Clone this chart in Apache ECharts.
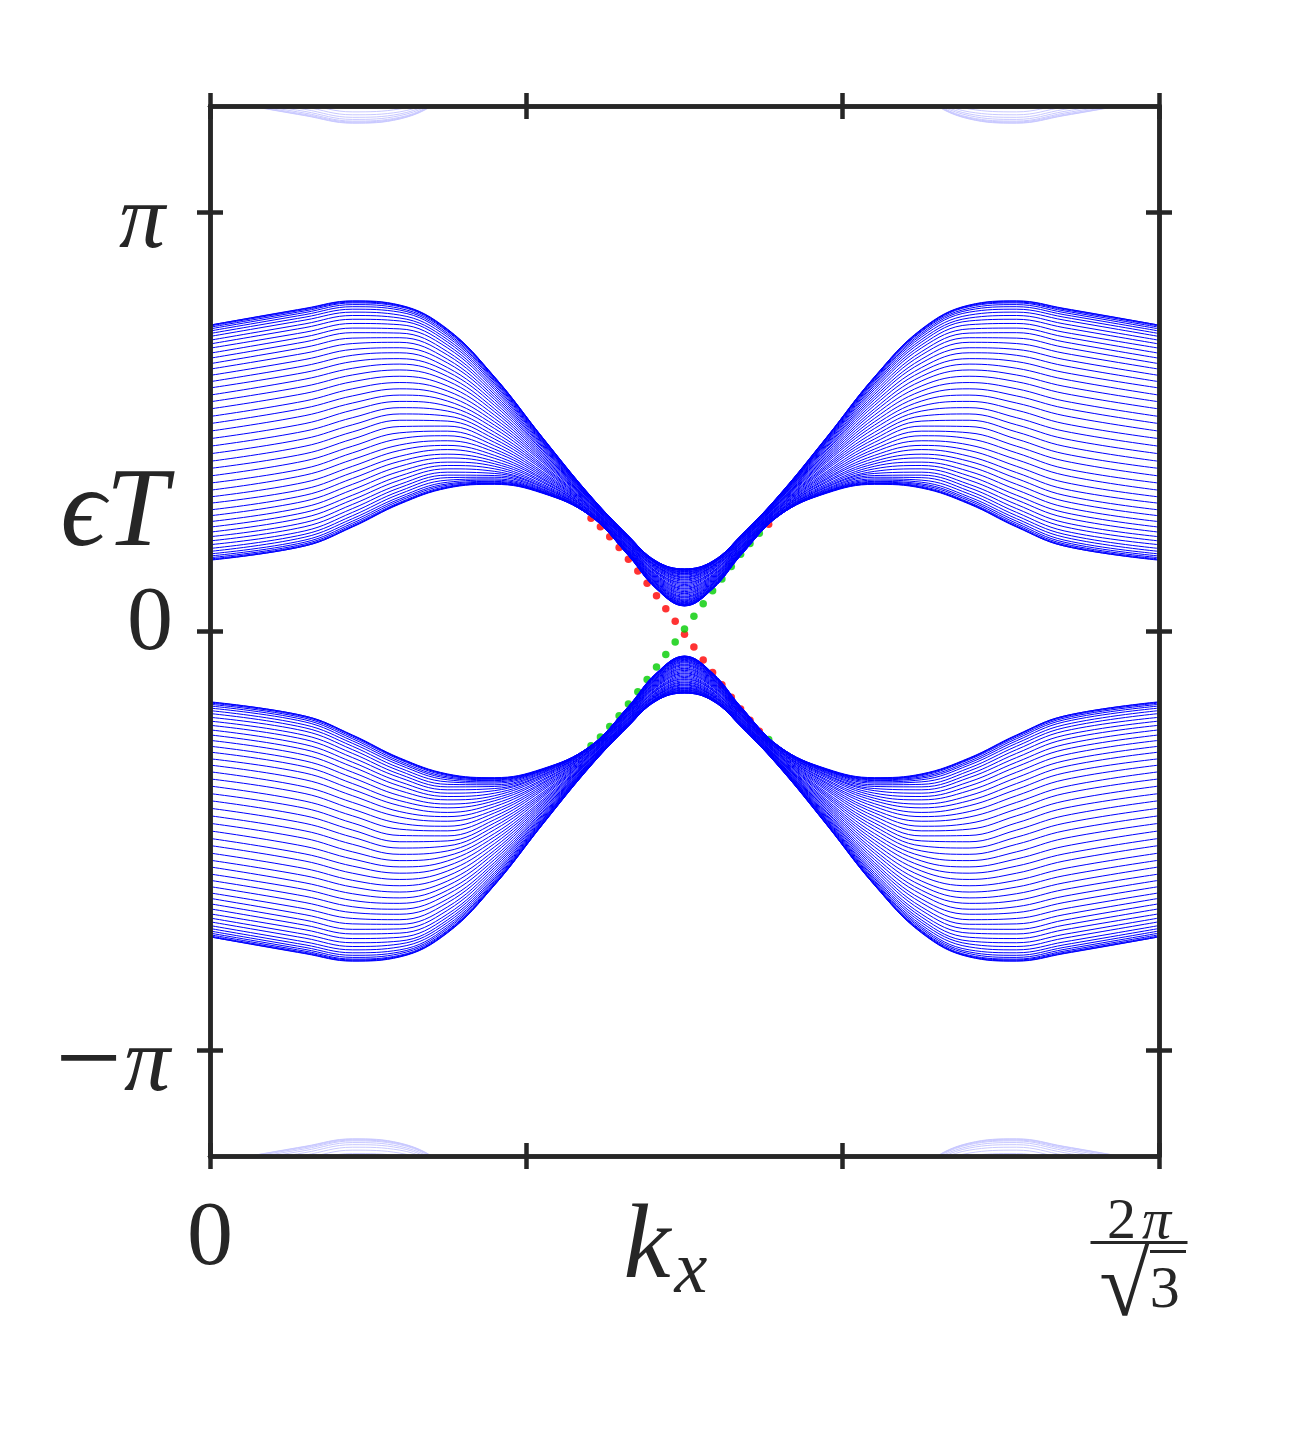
<!DOCTYPE html>
<html>
<head>
<meta charset="utf-8">
<script src="https://cdn.jsdelivr.net/npm/echarts@6/dist/echarts.min.js"></script>
<style>html,body{margin:0;padding:0;background:#fff}#chart{width:1291px;height:1431px}</style>
</head>
<body>
<div id="chart"></div>
<script>
// k_x in units of 2π/√3
const kx = [0, 0.1, 0.15, 0.2, 0.25, 0.3, 0.35, 0.4, 0.44, 0.47, 0.5, 0.53, 0.56, 0.6, 0.65, 0.7, 0.75, 0.8, 0.85, 0.9, 1];

// quasienergy εT in units of π, one row per bulk line (upper band)
const upperBand = [
[0.730,0.770,0.788,0.778,0.721,0.606,0.463,0.325,0.229,0.167,0.148,0.167,0.229,0.325,0.463,0.606,0.721,0.778,0.788,0.770,0.730],
[0.730,0.769,0.787,0.777,0.720,0.606,0.463,0.325,0.229,0.167,0.148,0.167,0.229,0.325,0.463,0.606,0.720,0.777,0.787,0.769,0.730],
[0.728,0.767,0.785,0.776,0.719,0.605,0.462,0.324,0.229,0.167,0.148,0.167,0.229,0.324,0.462,0.605,0.719,0.776,0.785,0.767,0.728],
[0.725,0.764,0.783,0.774,0.717,0.604,0.462,0.324,0.229,0.166,0.147,0.166,0.229,0.324,0.462,0.604,0.717,0.774,0.783,0.764,0.725],
[0.721,0.760,0.779,0.770,0.715,0.602,0.461,0.324,0.228,0.166,0.147,0.166,0.228,0.324,0.461,0.602,0.715,0.770,0.779,0.760,0.721],
[0.716,0.755,0.774,0.766,0.711,0.600,0.460,0.323,0.228,0.165,0.146,0.165,0.228,0.323,0.460,0.600,0.711,0.766,0.774,0.755,0.716],
[0.710,0.749,0.768,0.761,0.707,0.597,0.458,0.323,0.227,0.164,0.145,0.164,0.227,0.323,0.458,0.597,0.707,0.761,0.768,0.749,0.710],
[0.703,0.742,0.761,0.754,0.702,0.594,0.456,0.322,0.226,0.164,0.144,0.164,0.226,0.322,0.456,0.594,0.702,0.754,0.761,0.742,0.703],
[0.694,0.733,0.753,0.747,0.696,0.590,0.454,0.321,0.226,0.162,0.142,0.162,0.226,0.321,0.454,0.590,0.696,0.747,0.753,0.733,0.694],
[0.685,0.724,0.744,0.740,0.690,0.586,0.452,0.321,0.226,0.162,0.141,0.162,0.226,0.321,0.452,0.586,0.690,0.740,0.744,0.724,0.685],
[0.675,0.713,0.734,0.731,0.683,0.581,0.450,0.320,0.225,0.161,0.139,0.161,0.225,0.320,0.450,0.581,0.683,0.731,0.734,0.713,0.675],
[0.663,0.702,0.723,0.721,0.676,0.576,0.447,0.319,0.224,0.160,0.137,0.160,0.224,0.319,0.447,0.576,0.676,0.721,0.723,0.702,0.663],
[0.651,0.690,0.712,0.711,0.667,0.570,0.444,0.318,0.223,0.158,0.136,0.158,0.223,0.318,0.444,0.570,0.667,0.711,0.712,0.690,0.651],
[0.638,0.677,0.699,0.700,0.659,0.564,0.441,0.317,0.222,0.156,0.134,0.156,0.222,0.317,0.441,0.564,0.659,0.700,0.699,0.677,0.638],
[0.625,0.663,0.686,0.689,0.649,0.558,0.438,0.315,0.220,0.155,0.131,0.155,0.220,0.315,0.438,0.558,0.649,0.689,0.686,0.663,0.625],
[0.610,0.648,0.672,0.676,0.640,0.552,0.434,0.315,0.220,0.154,0.129,0.154,0.220,0.315,0.434,0.552,0.640,0.676,0.672,0.648,0.610],
[0.595,0.633,0.658,0.664,0.629,0.545,0.431,0.313,0.218,0.152,0.127,0.152,0.218,0.313,0.431,0.545,0.629,0.664,0.658,0.633,0.595],
[0.580,0.617,0.643,0.650,0.619,0.538,0.427,0.312,0.217,0.150,0.124,0.150,0.217,0.312,0.427,0.538,0.619,0.650,0.643,0.617,0.580],
[0.563,0.601,0.627,0.637,0.608,0.530,0.423,0.310,0.215,0.148,0.122,0.148,0.215,0.310,0.423,0.530,0.608,0.637,0.627,0.601,0.563],
[0.547,0.584,0.611,0.623,0.597,0.523,0.419,0.309,0.214,0.146,0.119,0.146,0.214,0.309,0.419,0.523,0.597,0.623,0.611,0.584,0.547],
[0.530,0.567,0.595,0.608,0.585,0.515,0.415,0.307,0.212,0.143,0.116,0.143,0.212,0.307,0.415,0.515,0.585,0.608,0.595,0.567,0.530],
[0.512,0.549,0.578,0.593,0.573,0.507,0.411,0.306,0.212,0.142,0.114,0.142,0.212,0.306,0.411,0.507,0.573,0.593,0.578,0.549,0.512],
[0.495,0.532,0.561,0.578,0.561,0.499,0.407,0.305,0.210,0.140,0.111,0.140,0.210,0.305,0.407,0.499,0.561,0.578,0.561,0.532,0.495],
[0.477,0.514,0.544,0.563,0.549,0.491,0.403,0.303,0.208,0.138,0.108,0.138,0.208,0.303,0.403,0.491,0.549,0.563,0.544,0.514,0.477],
[0.459,0.495,0.527,0.548,0.537,0.483,0.398,0.301,0.207,0.135,0.105,0.135,0.207,0.301,0.398,0.483,0.537,0.548,0.527,0.495,0.459],
[0.441,0.477,0.509,0.533,0.525,0.474,0.394,0.299,0.205,0.133,0.102,0.133,0.205,0.299,0.394,0.474,0.525,0.533,0.509,0.477,0.441],
[0.423,0.459,0.492,0.518,0.513,0.466,0.390,0.298,0.203,0.131,0.100,0.131,0.203,0.298,0.390,0.466,0.513,0.518,0.492,0.459,0.423],
[0.405,0.441,0.475,0.503,0.501,0.458,0.386,0.296,0.202,0.129,0.097,0.129,0.202,0.296,0.386,0.458,0.501,0.503,0.475,0.441,0.405],
[0.388,0.423,0.458,0.488,0.489,0.450,0.381,0.295,0.201,0.127,0.094,0.127,0.201,0.295,0.381,0.450,0.489,0.488,0.458,0.423,0.388],
[0.370,0.406,0.441,0.473,0.477,0.442,0.377,0.293,0.199,0.125,0.091,0.125,0.199,0.293,0.377,0.442,0.477,0.473,0.441,0.406,0.370],
[0.353,0.388,0.425,0.459,0.466,0.434,0.373,0.292,0.198,0.123,0.089,0.123,0.198,0.292,0.373,0.434,0.466,0.459,0.425,0.388,0.353],
[0.336,0.372,0.409,0.444,0.454,0.427,0.369,0.290,0.196,0.121,0.086,0.121,0.196,0.290,0.369,0.427,0.454,0.444,0.409,0.372,0.336],
[0.320,0.355,0.393,0.431,0.443,0.419,0.365,0.288,0.195,0.119,0.083,0.119,0.195,0.288,0.365,0.419,0.443,0.431,0.393,0.355,0.320],
[0.305,0.339,0.378,0.417,0.433,0.412,0.362,0.287,0.193,0.117,0.081,0.117,0.193,0.287,0.362,0.412,0.433,0.417,0.378,0.339,0.305],
[0.289,0.324,0.364,0.405,0.422,0.405,0.358,0.285,0.192,0.115,0.079,0.115,0.192,0.285,0.358,0.405,0.422,0.405,0.364,0.324,0.289],
[0.275,0.310,0.350,0.393,0.413,0.399,0.355,0.285,0.191,0.114,0.076,0.114,0.191,0.285,0.355,0.399,0.413,0.393,0.350,0.310,0.275],
[0.261,0.296,0.337,0.381,0.403,0.393,0.351,0.284,0.190,0.112,0.074,0.112,0.190,0.284,0.351,0.393,0.403,0.381,0.337,0.296,0.261],
[0.248,0.283,0.324,0.370,0.395,0.387,0.348,0.282,0.189,0.111,0.072,0.111,0.189,0.282,0.348,0.387,0.395,0.370,0.324,0.283,0.248],
[0.236,0.271,0.313,0.360,0.387,0.381,0.345,0.281,0.188,0.109,0.070,0.109,0.188,0.281,0.345,0.381,0.387,0.360,0.313,0.271,0.236],
[0.225,0.259,0.302,0.350,0.379,0.376,0.343,0.280,0.187,0.108,0.068,0.108,0.187,0.280,0.343,0.376,0.379,0.350,0.302,0.259,0.225],
[0.215,0.249,0.292,0.342,0.372,0.371,0.340,0.279,0.186,0.106,0.067,0.106,0.186,0.279,0.340,0.371,0.372,0.342,0.292,0.249,0.215],
[0.206,0.239,0.283,0.334,0.366,0.367,0.338,0.278,0.185,0.105,0.065,0.105,0.185,0.278,0.338,0.367,0.366,0.334,0.283,0.239,0.206],
[0.197,0.231,0.275,0.327,0.360,0.363,0.336,0.278,0.185,0.105,0.064,0.105,0.185,0.278,0.336,0.363,0.360,0.327,0.275,0.231,0.197],
[0.190,0.224,0.268,0.320,0.355,0.360,0.334,0.278,0.184,0.104,0.063,0.104,0.184,0.278,0.334,0.360,0.355,0.320,0.268,0.224,0.190],
[0.184,0.217,0.262,0.315,0.351,0.357,0.333,0.277,0.184,0.103,0.062,0.103,0.184,0.277,0.333,0.357,0.351,0.315,0.262,0.217,0.184],
[0.179,0.212,0.257,0.311,0.348,0.355,0.332,0.277,0.183,0.103,0.061,0.103,0.183,0.277,0.332,0.355,0.348,0.311,0.257,0.212,0.179],
[0.175,0.208,0.253,0.307,0.345,0.353,0.331,0.276,0.183,0.102,0.061,0.102,0.183,0.276,0.331,0.353,0.345,0.307,0.253,0.208,0.175],
[0.172,0.205,0.250,0.305,0.343,0.352,0.330,0.276,0.183,0.102,0.060,0.102,0.183,0.276,0.330,0.352,0.343,0.305,0.250,0.205,0.172],
[0.170,0.203,0.249,0.304,0.342,0.351,0.330,0.276,0.183,0.102,0.060,0.102,0.183,0.276,0.330,0.351,0.342,0.304,0.249,0.203,0.170],
[0.169,0.203,0.248,0.303,0.341,0.350,0.329,0.276,0.182,0.101,0.060,0.101,0.182,0.276,0.329,0.350,0.341,0.303,0.248,0.203,0.169]
];

// quasienergy εT in units of π (lower band)
const lowerBand = [
[-0.730,-0.770,-0.788,-0.778,-0.721,-0.606,-0.463,-0.325,-0.229,-0.167,-0.148,-0.167,-0.229,-0.325,-0.463,-0.606,-0.721,-0.778,-0.788,-0.770,-0.730],
[-0.730,-0.769,-0.787,-0.777,-0.720,-0.606,-0.463,-0.325,-0.229,-0.167,-0.148,-0.167,-0.229,-0.325,-0.463,-0.606,-0.720,-0.777,-0.787,-0.769,-0.730],
[-0.728,-0.767,-0.785,-0.776,-0.719,-0.605,-0.462,-0.324,-0.229,-0.167,-0.148,-0.167,-0.229,-0.324,-0.462,-0.605,-0.719,-0.776,-0.785,-0.767,-0.728],
[-0.725,-0.764,-0.783,-0.774,-0.717,-0.604,-0.462,-0.324,-0.229,-0.166,-0.147,-0.166,-0.229,-0.324,-0.462,-0.604,-0.717,-0.774,-0.783,-0.764,-0.725],
[-0.721,-0.760,-0.779,-0.770,-0.715,-0.602,-0.461,-0.324,-0.228,-0.166,-0.147,-0.166,-0.228,-0.324,-0.461,-0.602,-0.715,-0.770,-0.779,-0.760,-0.721],
[-0.716,-0.755,-0.774,-0.766,-0.711,-0.600,-0.460,-0.323,-0.228,-0.165,-0.146,-0.165,-0.228,-0.323,-0.460,-0.600,-0.711,-0.766,-0.774,-0.755,-0.716],
[-0.710,-0.749,-0.768,-0.761,-0.707,-0.597,-0.458,-0.323,-0.227,-0.164,-0.145,-0.164,-0.227,-0.323,-0.458,-0.597,-0.707,-0.761,-0.768,-0.749,-0.710],
[-0.703,-0.742,-0.761,-0.754,-0.702,-0.594,-0.456,-0.322,-0.226,-0.164,-0.144,-0.164,-0.226,-0.322,-0.456,-0.594,-0.702,-0.754,-0.761,-0.742,-0.703],
[-0.694,-0.733,-0.753,-0.747,-0.696,-0.590,-0.454,-0.321,-0.226,-0.162,-0.142,-0.162,-0.226,-0.321,-0.454,-0.590,-0.696,-0.747,-0.753,-0.733,-0.694],
[-0.685,-0.724,-0.744,-0.740,-0.690,-0.586,-0.452,-0.321,-0.226,-0.162,-0.141,-0.162,-0.226,-0.321,-0.452,-0.586,-0.690,-0.740,-0.744,-0.724,-0.685],
[-0.675,-0.713,-0.734,-0.731,-0.683,-0.581,-0.450,-0.320,-0.225,-0.161,-0.139,-0.161,-0.225,-0.320,-0.450,-0.581,-0.683,-0.731,-0.734,-0.713,-0.675],
[-0.663,-0.702,-0.723,-0.721,-0.676,-0.576,-0.447,-0.319,-0.224,-0.160,-0.137,-0.160,-0.224,-0.319,-0.447,-0.576,-0.676,-0.721,-0.723,-0.702,-0.663],
[-0.651,-0.690,-0.712,-0.711,-0.667,-0.570,-0.444,-0.318,-0.223,-0.158,-0.136,-0.158,-0.223,-0.318,-0.444,-0.570,-0.667,-0.711,-0.712,-0.690,-0.651],
[-0.638,-0.677,-0.699,-0.700,-0.659,-0.564,-0.441,-0.317,-0.222,-0.156,-0.134,-0.156,-0.222,-0.317,-0.441,-0.564,-0.659,-0.700,-0.699,-0.677,-0.638],
[-0.625,-0.663,-0.686,-0.689,-0.649,-0.558,-0.438,-0.315,-0.220,-0.155,-0.131,-0.155,-0.220,-0.315,-0.438,-0.558,-0.649,-0.689,-0.686,-0.663,-0.625],
[-0.610,-0.648,-0.672,-0.676,-0.640,-0.552,-0.434,-0.315,-0.220,-0.154,-0.129,-0.154,-0.220,-0.315,-0.434,-0.552,-0.640,-0.676,-0.672,-0.648,-0.610],
[-0.595,-0.633,-0.658,-0.664,-0.629,-0.545,-0.431,-0.313,-0.218,-0.152,-0.127,-0.152,-0.218,-0.313,-0.431,-0.545,-0.629,-0.664,-0.658,-0.633,-0.595],
[-0.580,-0.617,-0.643,-0.650,-0.619,-0.538,-0.427,-0.312,-0.217,-0.150,-0.124,-0.150,-0.217,-0.312,-0.427,-0.538,-0.619,-0.650,-0.643,-0.617,-0.580],
[-0.563,-0.601,-0.627,-0.637,-0.608,-0.530,-0.423,-0.310,-0.215,-0.148,-0.122,-0.148,-0.215,-0.310,-0.423,-0.530,-0.608,-0.637,-0.627,-0.601,-0.563],
[-0.547,-0.584,-0.611,-0.623,-0.597,-0.523,-0.419,-0.309,-0.214,-0.146,-0.119,-0.146,-0.214,-0.309,-0.419,-0.523,-0.597,-0.623,-0.611,-0.584,-0.547],
[-0.530,-0.567,-0.595,-0.608,-0.585,-0.515,-0.415,-0.307,-0.212,-0.143,-0.116,-0.143,-0.212,-0.307,-0.415,-0.515,-0.585,-0.608,-0.595,-0.567,-0.530],
[-0.512,-0.549,-0.578,-0.593,-0.573,-0.507,-0.411,-0.306,-0.212,-0.142,-0.114,-0.142,-0.212,-0.306,-0.411,-0.507,-0.573,-0.593,-0.578,-0.549,-0.512],
[-0.495,-0.532,-0.561,-0.578,-0.561,-0.499,-0.407,-0.305,-0.210,-0.140,-0.111,-0.140,-0.210,-0.305,-0.407,-0.499,-0.561,-0.578,-0.561,-0.532,-0.495],
[-0.477,-0.514,-0.544,-0.563,-0.549,-0.491,-0.403,-0.303,-0.208,-0.138,-0.108,-0.138,-0.208,-0.303,-0.403,-0.491,-0.549,-0.563,-0.544,-0.514,-0.477],
[-0.459,-0.495,-0.527,-0.548,-0.537,-0.483,-0.398,-0.301,-0.207,-0.135,-0.105,-0.135,-0.207,-0.301,-0.398,-0.483,-0.537,-0.548,-0.527,-0.495,-0.459],
[-0.441,-0.477,-0.509,-0.533,-0.525,-0.474,-0.394,-0.299,-0.205,-0.133,-0.102,-0.133,-0.205,-0.299,-0.394,-0.474,-0.525,-0.533,-0.509,-0.477,-0.441],
[-0.423,-0.459,-0.492,-0.518,-0.513,-0.466,-0.390,-0.298,-0.203,-0.131,-0.100,-0.131,-0.203,-0.298,-0.390,-0.466,-0.513,-0.518,-0.492,-0.459,-0.423],
[-0.405,-0.441,-0.475,-0.503,-0.501,-0.458,-0.386,-0.296,-0.202,-0.129,-0.097,-0.129,-0.202,-0.296,-0.386,-0.458,-0.501,-0.503,-0.475,-0.441,-0.405],
[-0.388,-0.423,-0.458,-0.488,-0.489,-0.450,-0.381,-0.295,-0.201,-0.127,-0.094,-0.127,-0.201,-0.295,-0.381,-0.450,-0.489,-0.488,-0.458,-0.423,-0.388],
[-0.370,-0.406,-0.441,-0.473,-0.477,-0.442,-0.377,-0.293,-0.199,-0.125,-0.091,-0.125,-0.199,-0.293,-0.377,-0.442,-0.477,-0.473,-0.441,-0.406,-0.370],
[-0.353,-0.388,-0.425,-0.459,-0.466,-0.434,-0.373,-0.292,-0.198,-0.123,-0.089,-0.123,-0.198,-0.292,-0.373,-0.434,-0.466,-0.459,-0.425,-0.388,-0.353],
[-0.336,-0.372,-0.409,-0.444,-0.454,-0.427,-0.369,-0.290,-0.196,-0.121,-0.086,-0.121,-0.196,-0.290,-0.369,-0.427,-0.454,-0.444,-0.409,-0.372,-0.336],
[-0.320,-0.355,-0.393,-0.431,-0.443,-0.419,-0.365,-0.288,-0.195,-0.119,-0.083,-0.119,-0.195,-0.288,-0.365,-0.419,-0.443,-0.431,-0.393,-0.355,-0.320],
[-0.305,-0.339,-0.378,-0.417,-0.433,-0.412,-0.362,-0.287,-0.193,-0.117,-0.081,-0.117,-0.193,-0.287,-0.362,-0.412,-0.433,-0.417,-0.378,-0.339,-0.305],
[-0.289,-0.324,-0.364,-0.405,-0.422,-0.405,-0.358,-0.285,-0.192,-0.115,-0.079,-0.115,-0.192,-0.285,-0.358,-0.405,-0.422,-0.405,-0.364,-0.324,-0.289],
[-0.275,-0.310,-0.350,-0.393,-0.413,-0.399,-0.355,-0.285,-0.191,-0.114,-0.076,-0.114,-0.191,-0.285,-0.355,-0.399,-0.413,-0.393,-0.350,-0.310,-0.275],
[-0.261,-0.296,-0.337,-0.381,-0.403,-0.393,-0.351,-0.284,-0.190,-0.112,-0.074,-0.112,-0.190,-0.284,-0.351,-0.393,-0.403,-0.381,-0.337,-0.296,-0.261],
[-0.248,-0.283,-0.324,-0.370,-0.395,-0.387,-0.348,-0.282,-0.189,-0.111,-0.072,-0.111,-0.189,-0.282,-0.348,-0.387,-0.395,-0.370,-0.324,-0.283,-0.248],
[-0.236,-0.271,-0.313,-0.360,-0.387,-0.381,-0.345,-0.281,-0.188,-0.109,-0.070,-0.109,-0.188,-0.281,-0.345,-0.381,-0.387,-0.360,-0.313,-0.271,-0.236],
[-0.225,-0.259,-0.302,-0.350,-0.379,-0.376,-0.343,-0.280,-0.187,-0.108,-0.068,-0.108,-0.187,-0.280,-0.343,-0.376,-0.379,-0.350,-0.302,-0.259,-0.225],
[-0.215,-0.249,-0.292,-0.342,-0.372,-0.371,-0.340,-0.279,-0.186,-0.106,-0.067,-0.106,-0.186,-0.279,-0.340,-0.371,-0.372,-0.342,-0.292,-0.249,-0.215],
[-0.206,-0.239,-0.283,-0.334,-0.366,-0.367,-0.338,-0.278,-0.185,-0.105,-0.065,-0.105,-0.185,-0.278,-0.338,-0.367,-0.366,-0.334,-0.283,-0.239,-0.206],
[-0.197,-0.231,-0.275,-0.327,-0.360,-0.363,-0.336,-0.278,-0.185,-0.105,-0.064,-0.105,-0.185,-0.278,-0.336,-0.363,-0.360,-0.327,-0.275,-0.231,-0.197],
[-0.190,-0.224,-0.268,-0.320,-0.355,-0.360,-0.334,-0.278,-0.184,-0.104,-0.063,-0.104,-0.184,-0.278,-0.334,-0.360,-0.355,-0.320,-0.268,-0.224,-0.190],
[-0.184,-0.217,-0.262,-0.315,-0.351,-0.357,-0.333,-0.277,-0.184,-0.103,-0.062,-0.103,-0.184,-0.277,-0.333,-0.357,-0.351,-0.315,-0.262,-0.217,-0.184],
[-0.179,-0.212,-0.257,-0.311,-0.348,-0.355,-0.332,-0.277,-0.183,-0.103,-0.061,-0.103,-0.183,-0.277,-0.332,-0.355,-0.348,-0.311,-0.257,-0.212,-0.179],
[-0.175,-0.208,-0.253,-0.307,-0.345,-0.353,-0.331,-0.276,-0.183,-0.102,-0.061,-0.102,-0.183,-0.276,-0.331,-0.353,-0.345,-0.307,-0.253,-0.208,-0.175],
[-0.172,-0.205,-0.250,-0.305,-0.343,-0.352,-0.330,-0.276,-0.183,-0.102,-0.060,-0.102,-0.183,-0.276,-0.330,-0.352,-0.343,-0.305,-0.250,-0.205,-0.172],
[-0.170,-0.203,-0.249,-0.304,-0.342,-0.351,-0.330,-0.276,-0.183,-0.102,-0.060,-0.102,-0.183,-0.276,-0.330,-0.351,-0.342,-0.304,-0.249,-0.203,-0.170],
[-0.169,-0.203,-0.248,-0.303,-0.341,-0.350,-0.329,-0.276,-0.182,-0.101,-0.060,-0.101,-0.182,-0.276,-0.329,-0.350,-0.341,-0.303,-0.248,-0.203,-0.169]
];

// edge states (dots)
const edgeKx = [0.4015,0.4114,0.4212,0.4311,0.4409,0.4508,0.4606,0.4705,0.4803,0.4902,0.5000,0.5099,0.5197,0.5296,0.5394,0.5493,0.5591,0.5690,0.5788,0.5887];
const edgeRed = [0.269,0.249,0.225,0.199,0.171,0.143,0.114,0.084,0.053,0.023,-0.008,-0.038,-0.069,-0.099,-0.128,-0.158,-0.186,-0.213,-0.239,0.255];
const edgeGreen = [-0.274,-0.253,-0.228,-0.202,-0.174,-0.145,-0.116,-0.086,-0.056,-0.026,0.005,0.035,0.065,0.096,0.124,0.154,0.183,0.209,0.233,-0.259];

// axes
const xTickValues = [0, 1/3, 2/3, 1];
const xLabelValues = [0, 1];
const yTickValues = [-1, 0, 1];
const yRange = [-1.253, 1.253];
const PERIOD = 2; // quasienergy is defined modulo 2π

const AX = '#262626';
const SERIF = "'Liberation Serif','DejaVu Serif',serif";
const LW = 4.5;
const BLUE = '#0000ff';
const FAINT = '#c8c8ff';

function xAxisDef(position, inside, main) {
  const a = {
    type: 'value', min: 0, max: 1, position: position, z: 10,
    nameMoveOverlap: false,
    axisLine: { show: true, onZero: false, lineStyle: { color: AX, width: LW } },
    axisTick: { show: true, inside: inside, length: 13, customValues: xTickValues, lineStyle: { color: AX, width: LW } },
    axisLabel: { show: false },
    splitLine: { show: false }
  };
  if (main) {
    a.axisLabel = {
      show: true, customValues: xLabelValues, margin: 38, color: AX, fontFamily: SERIF,
      formatter: function (v) {
        return v === 0 ? '{zero|0}'
          : '{num|2}{npi|π}{hold| }{sp| }\n{bar| }{gap| }{sp| }\n{vpad| }{vin| }{sp| }\n{rad|√}{den|3}{sp| }';
      },
      rich: {
        zero: { fontSize: 92, lineHeight: 92, fontFamily: SERIF, color: AX },
        num: { fontSize: 58, lineHeight: 22, verticalAlign: 'top', padding: [0, 6, 0, 0], fontFamily: SERIF, color: AX },
        npi: { fontSize: 58, lineHeight: 22, verticalAlign: 'top', fontStyle: 'italic', fontFamily: SERIF, color: AX },
        hold: { width: 1, fontSize: 1, lineHeight: 47 },
        sp: { width: 39, fontSize: 1, lineHeight: 1 },
        bar: { width: 97, height: 3, lineHeight: 3, fontSize: 1, verticalAlign: 'top', backgroundColor: AX },
        gap: { width: 1, fontSize: 1, lineHeight: 9 },
        vpad: { width: 57, fontSize: 1, lineHeight: 1 },
        vin: { width: 36, height: 3, lineHeight: 3, fontSize: 1, backgroundColor: AX },
        rad: { fontSize: 92, lineHeight: 76, fontFamily: SERIF, color: AX },
        den: { fontSize: 60, lineHeight: 76, fontFamily: SERIF, color: AX }
      }
    };
    a.name = '{k|k}{s|x}{sp|}';
    a.nameLocation = 'middle';
    a.nameGap = 40;
    a.nameTextStyle = {
      rich: {
        k: { fontSize: 106, lineHeight: 106, verticalAlign: 'top', fontStyle: 'italic', fontFamily: SERIF, color: AX },
        s: { fontSize: 74, lineHeight: 114, verticalAlign: 'bottom', padding: [0, 0, 0, 4], fontStyle: 'italic', fontFamily: SERIF, color: AX },
        sp: { width: 38, fontSize: 1, lineHeight: 1 }
      }
    };
  }
  return a;
}

function yAxisDef(position, inside, main) {
  const a = {
    type: 'value', min: yRange[0], max: yRange[1], position: position, z: 10,
    nameMoveOverlap: false,
    axisLine: { show: true, onZero: false, lineStyle: { color: AX, width: LW } },
    axisTick: { show: true, inside: inside, length: 13, customValues: yTickValues, lineStyle: { color: AX, width: LW } },
    axisLabel: { show: false },
    splitLine: { show: false }
  };
  if (main) {
    a.axisLabel = {
      show: true, customValues: yTickValues, margin: 37, color: AX, fontFamily: SERIF,
      formatter: function (v) {
        if (v === 1) return '{pi|π}';
        if (v === 0) return '{n|0}';
        return '{m|−}{pi2|π}';
      },
      rich: {
        n: { fontSize: 92, lineHeight: 92, padding: [0, 0, 12, 0], fontFamily: SERIF, color: AX },
        pi: { fontSize: 92, lineHeight: 92, padding: [22, 8, 0, 0], fontStyle: 'italic', fontFamily: SERIF, color: AX },
        m: { fontSize: 118, lineHeight: 92, padding: [32, 2, 0, 0], fontFamily: SERIF, color: AX },
        pi2: { fontSize: 92, lineHeight: 92, padding: [32, 3, 0, 0], fontStyle: 'italic', fontFamily: SERIF, color: AX }
      }
    };
    a.name = 'ϵT';
    a.nameLocation = 'middle';
    a.nameRotate = 0;
    a.nameGap = 42;
    a.nameTextStyle = { fontSize: 112, fontStyle: 'italic', fontFamily: SERIF, color: AX, align: 'right', verticalAlign: 'bottom', lineHeight: 230 };
  }
  return a;
}

function lineSeries(row, color, z, shift) {
  return {
    type: 'line', xAxisIndex: 0, yAxisIndex: 0, z: z, silent: true,
    showSymbol: false, symbol: 'none', smooth: 0.4, clip: true,
    lineStyle: { color: color, width: 1 },
    emphasis: { disabled: true },
    data: kx.map(function (x, i) { return [x, row[i] + shift]; })
  };
}

const series = [];
upperBand.forEach(function (r) { series.push(lineSeries(r, FAINT, 1, -PERIOD)); });
lowerBand.forEach(function (r) { series.push(lineSeries(r, FAINT, 1, PERIOD)); });
series.push({
  type: 'scatter', xAxisIndex: 0, yAxisIndex: 0, z: 2, silent: true, symbolSize: 7.5,
  itemStyle: { color: '#ff0000' },
  data: edgeKx.map(function (x, i) { return [x, edgeRed[i]]; })
});
series.push({
  type: 'scatter', xAxisIndex: 0, yAxisIndex: 0, z: 2, silent: true, symbolSize: 7.5,
  itemStyle: { color: '#00cc00' },
  data: edgeKx.map(function (x, i) { return [x, edgeGreen[i]]; })
});
upperBand.forEach(function (r) { series.push(lineSeries(r, BLUE, 3, 0)); });
lowerBand.forEach(function (r) { series.push(lineSeries(r, BLUE, 3, 0)); });

const chart = echarts.init(document.getElementById('chart'), null, { renderer: 'canvas' });
chart.setOption({
  animation: false,
  backgroundColor: '#ffffff',
  grid: { left: 210, right: 132, top: 106, bottom: 275, containLabel: false, outerBoundsMode: 'none' },
  xAxis: [xAxisDef('bottom', false, true), xAxisDef('bottom', true, false), xAxisDef('top', false, false), xAxisDef('top', true, false)],
  yAxis: [yAxisDef('left', false, true), yAxisDef('left', true, false), yAxisDef('right', false, false), yAxisDef('right', true, false)],
  series: series
});
</script>
</body>
</html>
